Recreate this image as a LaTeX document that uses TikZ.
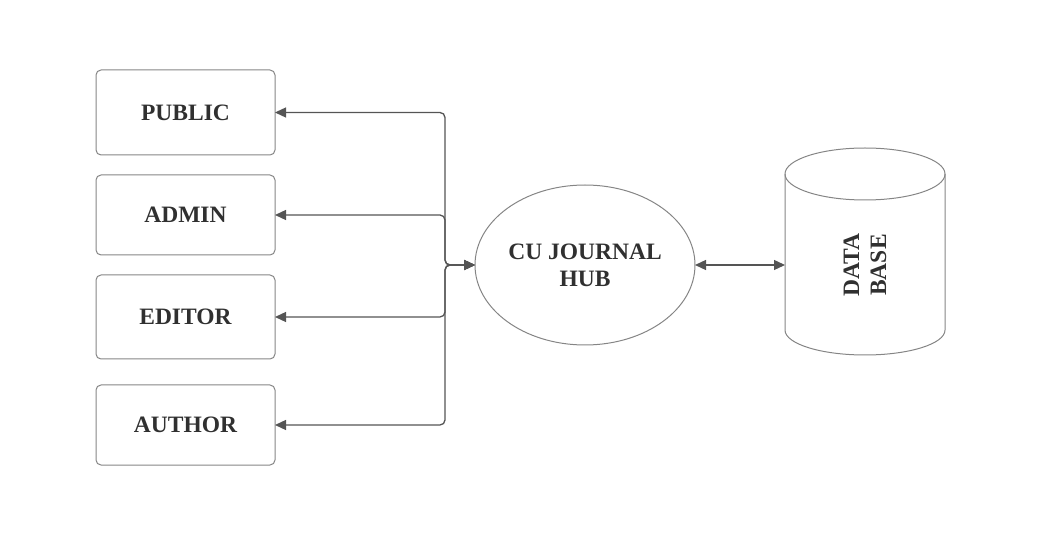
\documentclass[tikz,border=0pt]{standalone}
\usepackage{fontspec}
\setmainfont{Liberation Serif}
\usetikzlibrary{shapes.geometric,arrows.meta}
\definecolor{edgegray}{HTML}{858585}
\definecolor{linegray}{HTML}{555555}
\definecolor{textgray}{HTML}{303030}

\begin{document}
\begin{tikzpicture}
[x=1pt,y=-1pt,
 every node/.style={font=\fontsize{23.5}{27}\selectfont\bfseries,text=textgray,inner sep=0pt,outer sep=0pt},
 actor/.style={draw=edgegray,line width=1pt,rounded corners=5pt,minimum width=179pt},
 hubshape/.style={ellipse,draw=edgegray,line width=1pt,minimum width=220pt,minimum height=160pt,align=center},
 conn/.style={draw=linegray,line width=1.3pt,rounded corners=5pt,{Triangle[length=11pt,width=10pt]}-{Triangle[length=11pt,width=10pt]}}]
\useasboundingbox (0,0) rectangle (1042,537);
\node[actor,minimum height=85pt] (public) at (185.5,112.5) {PUBLIC};
\node[actor,minimum height=80pt] (admin)  at (185.5,215)   {ADMIN};
\node[actor,minimum height=84pt] (editor) at (185.5,317)   {EDITOR};
\node[actor,minimum height=80pt] (author) at (185.5,425)   {AUTHOR};
\node[hubshape] (hub) at (585,265) {CU JOURNAL\\HUB};
\node[minimum width=160pt,minimum height=156pt] (db) at (865,252) {};
\coordinate (bus) at (445,265);
% database drum
\draw[edgegray,line width=1pt] (db.north west) -- (db.south west)
  arc[start angle=180,end angle=360,x radius=80pt,y radius=25pt] -- (db.north east);
\draw[edgegray,line width=1pt] (db.north) ellipse [x radius=80pt,y radius=26pt];
\node[rotate=90,align=center] at (hub -| db) {DATA\\BASE};
% connectors
\foreach \who in {public,admin,editor,author}
  \draw[conn] (hub.west) -- (bus) |- (\who.east);
\draw[conn] (hub.east) -- (hub.east -| db.west);
\end{tikzpicture}
\end{document}
